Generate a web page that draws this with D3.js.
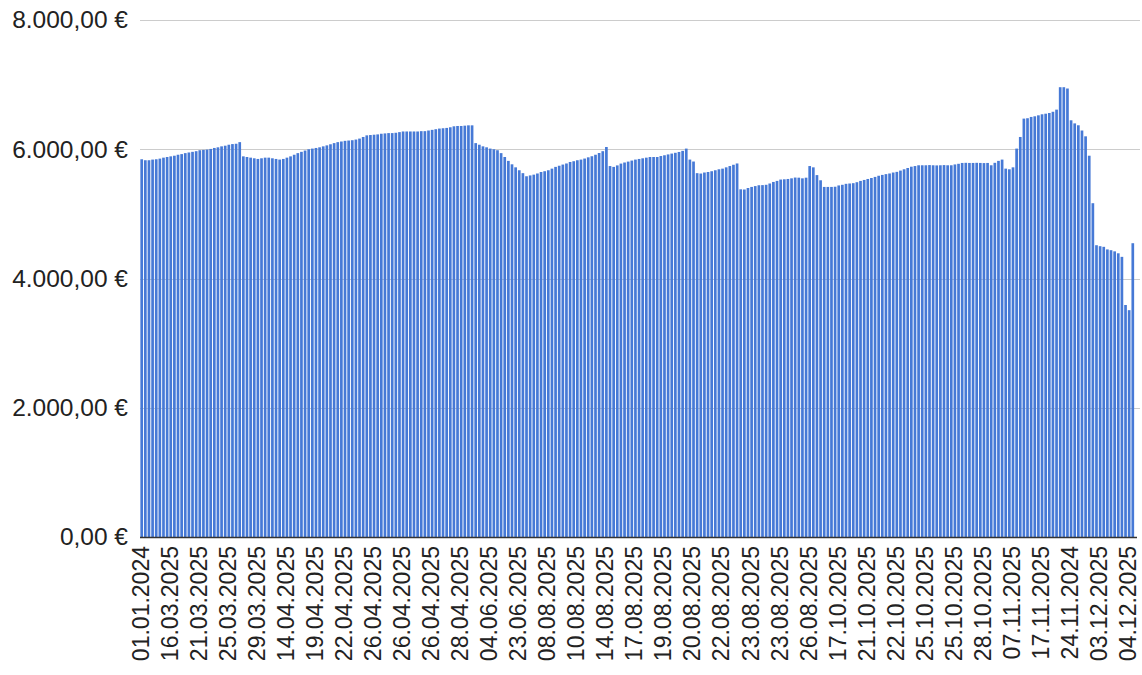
<!DOCTYPE html>
<html>
<head>
<meta charset="utf-8">
<script src="https://cdn.jsdelivr.net/npm/d3@7"></script>
<style>
  body { margin: 0; background: #fff; }
  svg text { font-family: "Liberation Sans", Arial, sans-serif; fill: #222; }
</style>
</head>
<body>
<svg id="chart" width="1142" height="675"></svg>
<script>
// daily balance values, one per bar
const values = [
  5845, 5830, 5830, 5840, 5845, 5855, 5870, 5880, 5890, 5900,
  5915, 5925, 5940, 5950, 5960, 5970, 5985, 5990, 5995, 6005,
  6020, 6030, 6045, 6055, 6070, 6080, 6085, 6110, 5890, 5880,
  5870, 5860, 5850, 5860, 5870, 5870, 5860, 5850, 5840, 5850,
  5870, 5890, 5915, 5940, 5960, 5980, 6000, 6010, 6020, 6030,
  6045, 6060, 6077, 6095, 6110, 6120, 6130, 6135, 6140, 6150,
  6165, 6190, 6215, 6220, 6225, 6230, 6240, 6245, 6250, 6250,
  6255, 6265, 6275, 6275, 6275, 6275, 6275, 6280, 6280, 6290,
  6300, 6310, 6320, 6325, 6330, 6340, 6355, 6360, 6360, 6365,
  6370, 6370, 6095, 6070, 6045, 6030, 6010, 6000, 5985, 5940,
  5880, 5820, 5767, 5720, 5675, 5630, 5582, 5595, 5607, 5625,
  5648, 5660, 5675, 5700, 5727, 5745, 5763, 5780, 5803, 5815,
  5830, 5840, 5856, 5875, 5892, 5915, 5942, 5970, 6035, 5740,
  5727, 5750, 5778, 5795, 5809, 5825, 5840, 5850, 5860, 5870,
  5880, 5880, 5880, 5895, 5907, 5920, 5933, 5945, 5958, 5975,
  6010, 5840, 5810, 5630, 5624, 5640, 5648, 5660, 5675, 5690,
  5700, 5720, 5740, 5760, 5780, 5380, 5377, 5400, 5417, 5430,
  5443, 5445, 5450, 5470, 5494, 5510, 5531, 5535, 5540, 5550,
  5562, 5560, 5550, 5560, 5740, 5720, 5600, 5520, 5417, 5417,
  5417, 5420, 5440, 5450, 5465, 5470, 5475, 5490, 5510, 5525,
  5540, 5555, 5572, 5590, 5603, 5615, 5625, 5640, 5650, 5670,
  5690, 5710, 5730, 5740, 5752, 5752, 5752, 5755, 5752, 5750,
  5752, 5755, 5752, 5752, 5765, 5775, 5788, 5790, 5788, 5788,
  5790, 5788, 5786, 5788, 5752, 5790, 5820, 5840, 5700, 5690,
  5720, 6010, 6190, 6474, 6480, 6500, 6510, 6525, 6541, 6550,
  6561, 6580, 6613, 6960, 6960, 6940, 6448, 6400, 6371, 6290,
  6200, 5900, 5165, 4515, 4500, 4490, 4450, 4438, 4420, 4390,
  4335, 3590, 3510, 4546
];

// one label shown on every 8th bar
const tickLabels = [
  '01.01.2024', '16.03.2025', '21.03.2025', '25.03.2025', '29.03.2025',
  '14.04.2025', '19.04.2025', '22.04.2025', '26.04.2025', '26.04.2025',
  '26.04.2025', '28.04.2025', '04.06.2025', '23.06.2025', '08.08.2025',
  '10.08.2025', '14.08.2025', '17.08.2025', '19.08.2025', '20.08.2025',
  '22.08.2025', '23.08.2025', '23.08.2025', '26.08.2025', '17.10.2025',
  '21.10.2025', '22.10.2025', '25.10.2025', '25.10.2025', '28.10.2025',
  '07.11.2025', '17.11.2025', '24.11.2024', '03.12.2025', '04.12.2025'
];
const labelEvery = 8;

const yTicks = [0, 2000, 4000, 6000, 8000];

const svg = d3.select('#chart'),
  margin = { top: 20, right: 2, bottom: 138, left: 140 },
  W = +svg.attr('width') - margin.left - margin.right,
  H = +svg.attr('height') - margin.top - margin.bottom;

const de = d3.formatLocale({
  decimal: ',', thousands: '.', grouping: [3], currency: ['', ' €']
});
const euro = de.format('$,.2f');

const x = d3.scaleBand()
  .domain(d3.range(values.length))
  .range([margin.left, margin.left + 994.5])
  .paddingInner(0.26)
  .paddingOuter(0.1);

const y = d3.scaleLinear()
  .domain([0, 8000])
  .range([margin.top + H, margin.top]);

// gridlines
svg.append('g')
  .selectAll('line')
  .data(yTicks.filter(d => d > 0))
  .join('line')
  .attr('x1', margin.left)
  .attr('x2', margin.left + W)
  .attr('y1', d => Math.round(y(d)) + 0.5)
  .attr('y2', d => Math.round(y(d)) + 0.5)
  .attr('stroke', '#cccccc')
  .attr('stroke-width', 1);

// bars
svg.append('g')
  .selectAll('rect')
  .data(values)
  .join('rect')
  .attr('x', (d, i) => x(i))
  .attr('width', x.bandwidth())
  .attr('y', d => y(d))
  .attr('height', d => y(0) - y(d))
  .attr('fill', '#4679d6');

// y axis labels
const yAxis = svg.append('g')
  .attr('transform', `translate(${margin.left},0)`)
  .call(d3.axisLeft(y).tickValues(yTicks).tickFormat(euro).tickSize(0).tickPadding(12));
yAxis.select('.domain').remove();
yAxis.selectAll('text')
  .style('font-size', '24.5px')
  .style('fill', '#222');

// x axis with rotated labels
const xAxis = svg.append('g')
  .attr('transform', `translate(0,${y(0)})`)
  .call(d3.axisBottom(x)
    .tickValues(d3.range(0, values.length, labelEvery))
    .tickFormat(i => tickLabels[i / labelEvery])
    .tickSize(0));
xAxis.select('.domain')
  .attr('d', `M${margin.left},0.5H${margin.left + 997}`)
  .attr('stroke', '#333')
  .attr('stroke-width', 1.5);
xAxis.selectAll('text')
  .attr('transform', 'rotate(-90)')
  .attr('text-anchor', 'end')
  .attr('x', -9)
  .attr('y', 0)
  .attr('dy', '0.3em')
  .style('font-size', '23px')
  .style('fill', '#222');
</script>
</body>
</html>
